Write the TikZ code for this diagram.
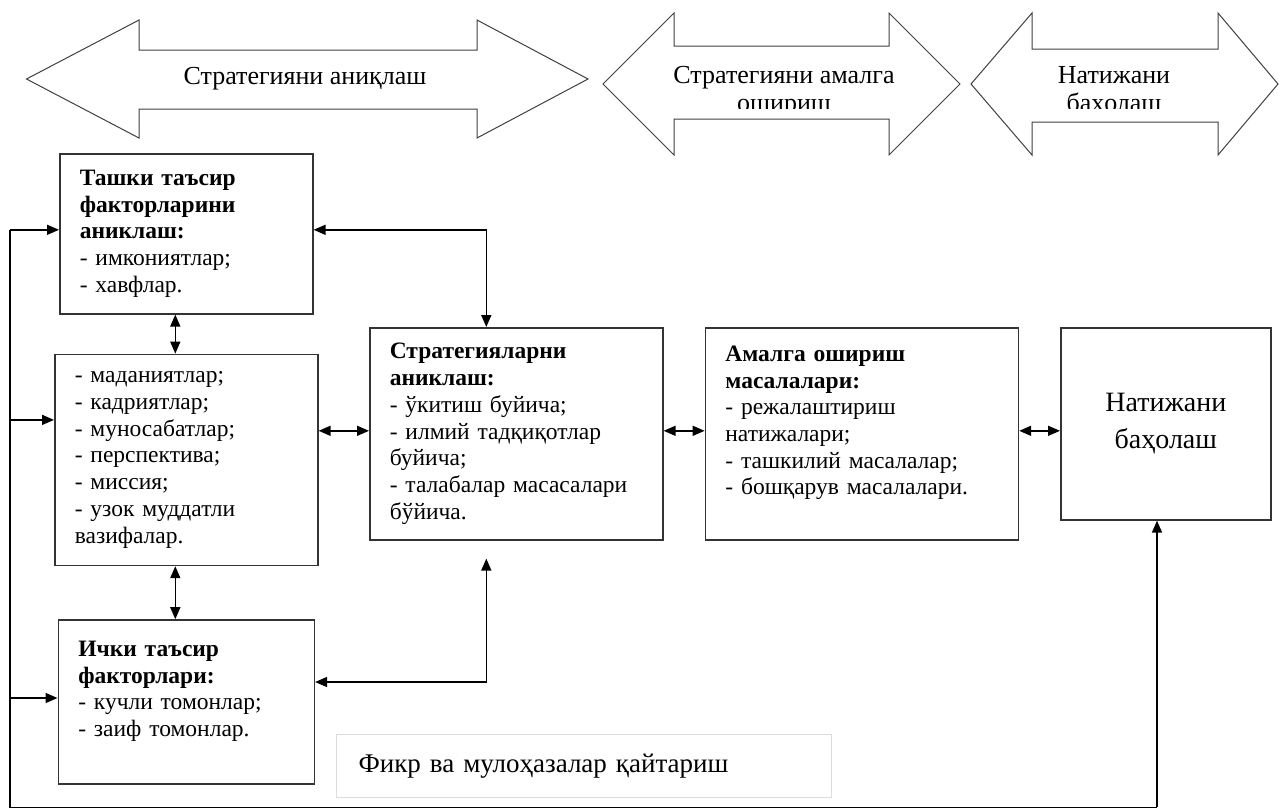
\documentclass[tikz,border=0pt]{standalone}
\usepackage{fontspec}
\setmainfont{Liberation Serif}
\usetikzlibrary{arrows.meta,positioning,calc}
\definecolor{boxline}{gray}{0.2}
\definecolor{faintline}{gray}{0.86}

\begin{document}
\begin{tikzpicture}[
  x=1pt,y=-1pt,
  wtip/.tip={Triangle[length=12pt,width=10pt]},
  box/.style={
    draw=boxline,line width=1.6pt,fill=white,
    align=left,inner xsep=20pt,inner ysep=0pt,
    font=\fontsize{23.5}{26.7}\selectfont
  },
  phase/.style={draw=black!75,line width=1pt,fill=white},
  phasetext/.style={font=\fontsize{26}{28}\selectfont,inner sep=0pt},
  line/.style={draw=black,line width=1.5pt},
  arrow/.style={line,-wtip},
  both/.style={line,wtip-wtip}
]
\useasboundingbox (0,0) rectangle (1279,807);

% phases on top
\draw[phase] (26.5,79) -- (139,20) -- (139,50) -- (477,50) -- (477,20)
  -- (588,79) -- (477,138) -- (477,109) -- (139,109) -- (139,138) -- cycle;
\draw[phase] (603,84) -- (674,13) -- (674,46) -- (889,46) -- (889,13)
  -- (960,84) -- (889,155) -- (889,119) -- (674,119) -- (674,155) -- cycle;
\draw[phase] (971,84) -- (1032,13) -- (1032,49) -- (1218,49) -- (1218,13)
  -- (1278,84) -- (1218,155) -- (1218,122) -- (1032,122) -- (1032,155) -- cycle;

\node[phasetext] (defphase) at (305,79) {Стратегияни аниқлаш};
\begin{scope}
  \clip (650,46) rectangle (915,108);
  \node[phasetext,align=center,anchor=north] (implphase) at (784,66)
    {Стратегияни амалга\\ошириш};
\end{scope}
\begin{scope}
  \clip (1032,49) rectangle (1218,108);
  \node[phasetext,align=center,anchor=north] (evalphase) at (1114,66)
    {Натижани\\баҳолаш};
\end{scope}

% left column
\node[box,text width=213pt,minimum height=160pt,anchor=north west] (ext) at (59,153) {
  \textbf{Ташки таъсир}\\
  \textbf{факторларини}\\
  \textbf{аниклаш:}\\
  - имкониятлар;\\
  - хавфлар.
};
\node[box,text width=223pt,minimum height=211pt,below=39pt of ext] (values) {
  - маданиятлар;\\
  - кадриятлар;\\
  - муносабатлар;\\
  - перспектива;\\
  - миссия;\\
  - узок муддатли\\
  вазифалар.
};
\node[box,text width=216pt,minimum height=164pt,below=53pt of values] (int) {
  \textbf{Ички таъсир}\\
  \textbf{факторлари:}\\
  - кучли томонлар;\\
  - заиф томонлар.\\
  \mbox{}
};

% middle row
\node[box,text width=253pt,minimum height=212pt,anchor=north west] (strat) at (369,327) {
  \textbf{Стратегияларни}\\
  \textbf{аниклаш:}\\
  - ўкитиш буйича;\\
  - илмий тадқиқотлар\\
  буйича;\\
  - талабалар масасалари\\
  бўйича.
};
\node[box,text width=273pt,minimum height=212pt,right=41pt of strat] (impl) {
  \textbf{Амалга ошириш}\\
  \textbf{масалалари:}\\
  - режалаштириш\\
  натижалари;\\
  - ташкилий масалалар;\\
  - бошқарув масалалари.\\
  \mbox{}
};
\node[box,align=center,text width=170pt,minimum height=192pt,anchor=north west,
  font=\fontsize{28}{37}\selectfont] (eval) at (1060,327) {Натижани\\баҳолаш};

\node[draw=faintline,line width=1pt,align=left,inner xsep=22pt,text width=451pt,
  minimum height=63pt,anchor=north west,font=\fontsize{27}{30}\selectfont]
  (feedback) at (336,734) {Фикр ва мулоҳазалар қайтариш};

% links
\draw[both] ([yshift=4pt]ext.east) -| ([xshift=-30pt]strat.north);
\draw[both] ([xshift=-11pt]ext.south) -- ([xshift=-11pt]ext.south |- values.north);
\draw[both] ([yshift=3pt]strat.west -| values.east) -- ([yshift=3pt]strat.west);
\draw[both] ([xshift=-11pt]values.south) -- ([xshift=-11pt]values.south |- int.north);
\draw[both] ([yshift=20pt]int.east) -| ([xshift=-30pt,yshift=-18pt]strat.south);
\draw[both] ([yshift=3pt]strat.east) -- ([yshift=3pt]impl.west);
\draw[both] ([yshift=3pt]impl.east) -- ([yshift=3pt]impl.east -| eval.west);

% feedback loop
\coordinate (lb) at (10,807.3);
\coordinate (rb) at (1157,807.3);
\draw[line] ($(ext.west -| lb)+(0,-4)$) -- (lb) -- (rb);
\draw[arrow] (rb) -- (rb |- eval.south);
\draw[arrow] ($(ext.west -| lb)+(0,-4)$) -- ([yshift=4pt]ext.west);
\draw[arrow] ($(values.west -| lb)+(0,-40)$) -- ([yshift=40pt]values.west);
\draw[arrow] ($(int.west -| lb)+(0,-4)$) -- ([yshift=4pt]int.west);

\end{tikzpicture}
\end{document}
